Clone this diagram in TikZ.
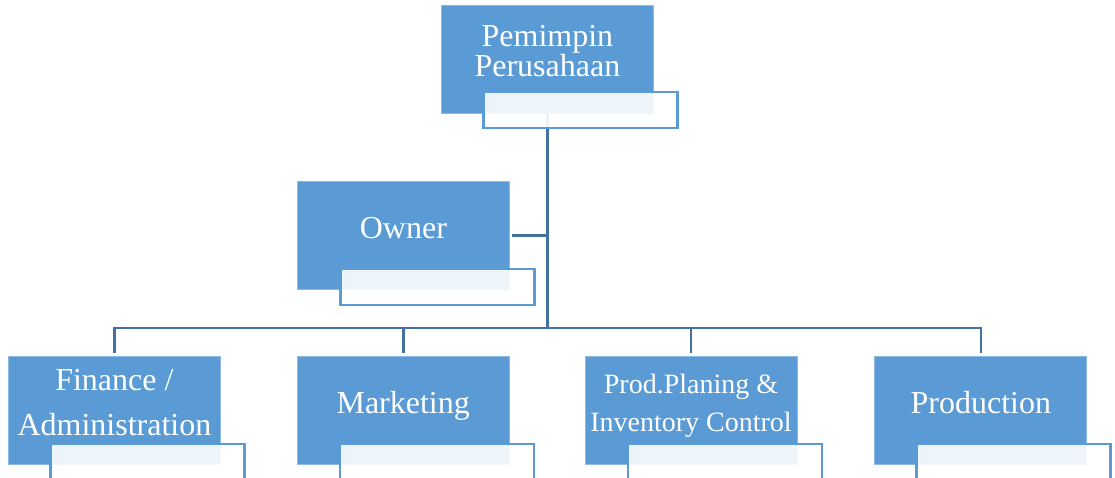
\documentclass[tikz,border=0pt]{standalone}
\usepackage{fontspec}
\setmainfont{Liberation Serif}
\usetikzlibrary{positioning}
\definecolor{boxblue}{RGB}{91,155,213}
\definecolor{boxedge}{RGB}{140,186,228}
\definecolor{linkblue}{RGB}{68,114,160}

\begin{document}
\begin{tikzpicture}[
    x=1pt, y=-1pt,
    node distance=76pt,
    every node/.style={inner sep=0pt},
    unitbox/.style={anchor=north west, minimum width=212pt, minimum height=108pt, fill=boxblue, draw=boxedge, line width=0.8pt, text=white, align=center, font=\fontsize{32}{30}\selectfont, text depth=16pt},
    tabbox/.style={anchor=north west, minimum width=194pt, minimum height=36pt, fill=white, fill opacity=0.9, draw=boxblue, line width=2.6pt},
    linkline/.style={draw=linkblue, line width=2.6pt}
]
   \path[use as bounding box, clip] (0,0) rectangle (1115,477);

   % Units
   \node[unitbox] (lead) at (441,5) {Pemimpin\\Perusahaan};
   \node[unitbox] (owner) at (297,181) {Owner};
   \node[unitbox] (fin) at (8,356) {Finance /\\[15pt]Administration};
   \node[unitbox, right=of fin] (mkt) {Marketing};
   \node[unitbox, right=75pt of mkt, font=\fontsize{28}{38}\selectfont] (plan) {Prod.Planing \&\\Inventory Control};
   \node[unitbox, right=77pt of plan] (prod) {Production};

   % Connectors
   \coordinate (bus) at ([yshift=-214pt]lead.south);
   \draw[linkline] (lead.south) -- (bus);
   \draw[linkline, shorten <=2pt] (owner.east) -- (owner.east -| bus);
   \foreach \unit in {fin, mkt, plan, prod}
      \draw[linkline, shorten >=3pt] (bus) -| (\unit.north);

   % Tabs in front of the units
   \node[tabbox] (leadtab) at ([xshift=41pt, yshift=23pt]lead.south west) {};
   \node[tabbox] (ownertab) at ([xshift=42pt, yshift=22pt]owner.south west) {};
   \node[tabbox] (fintab) at ([xshift=41pt, yshift=22pt]fin.south west) {};
   \node[tabbox] (mkttab) at ([xshift=42pt, yshift=22pt]mkt.south west) {};
   \node[tabbox] (plantab) at ([xshift=42pt, yshift=22pt]plan.south west) {};
   \node[tabbox] (prodtab) at ([xshift=41pt, yshift=22pt]prod.south west) {};
\end{tikzpicture}
\end{document}
